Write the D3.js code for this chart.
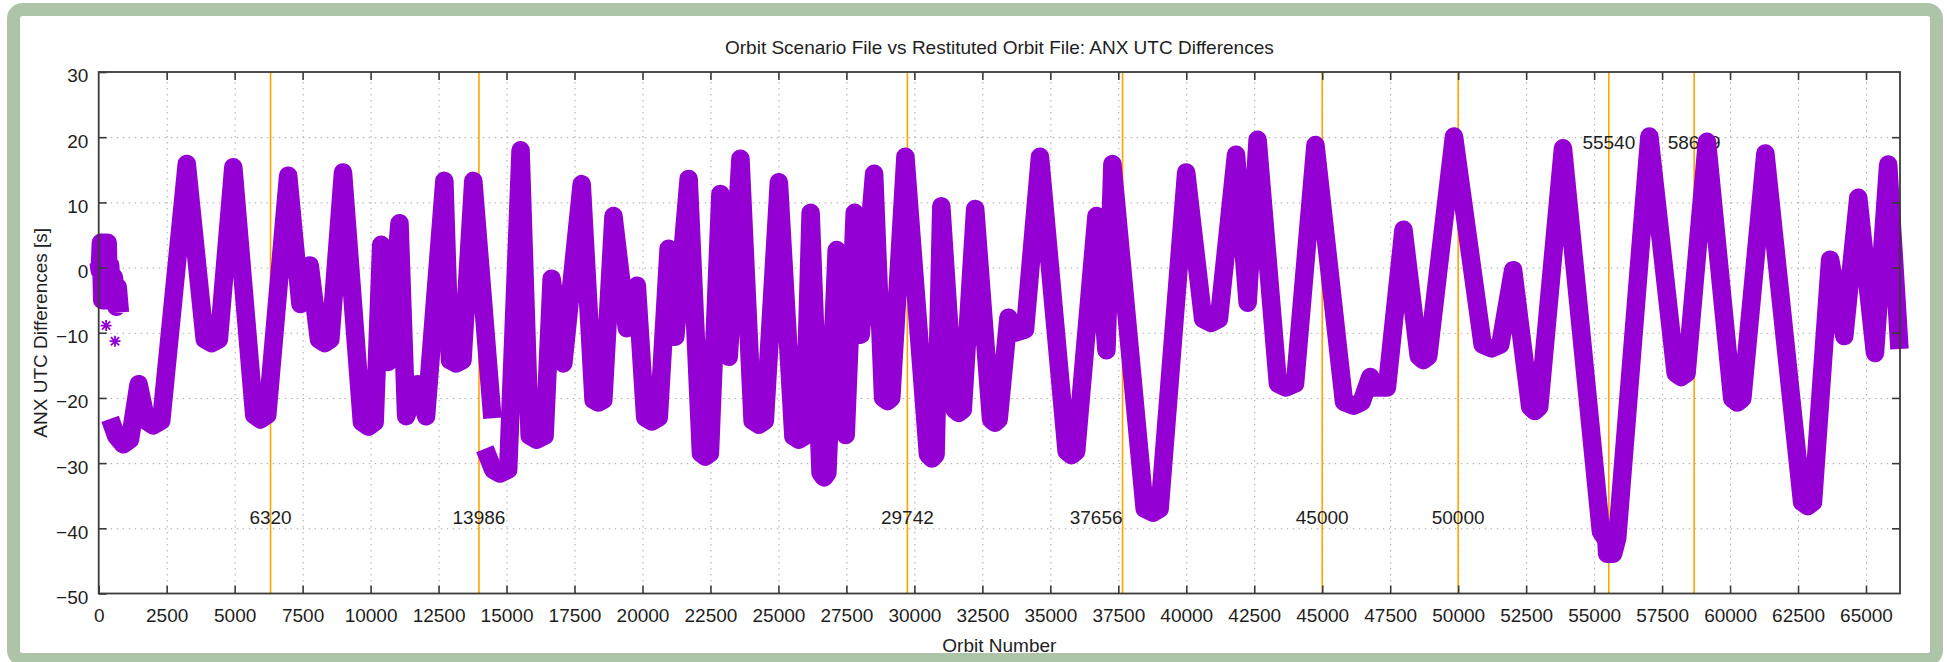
<!DOCTYPE html>
<html>
<head>
<meta charset="utf-8">
<script src="https://cdn.jsdelivr.net/npm/d3@7"></script>
<style>
  body { margin: 0; background: #ffffff; }
  svg { display: block; }
  text { font-family: "Liberation Sans", Arial, Helvetica, sans-serif; fill: #1e1e1e; }
</style>
</head>
<body>
<svg id="chart" width="1947" height="662"></svg>
<script>
// ---------------- DATA ----------------
// Orbit numbers of the traced band vertices (null value = gap in the trace)
const orbitNumbers = [
  0, 40, 80, 130, 200, 260, 330, 380, 420, 500, 560, 650, 700, 780, 790,
  420, 640, 900, 1150, 1467, 1750, 2000, 2300, 3239, 3900, 4156, 4420, 4951,
  5720, 5953, 6200, 6968, 7420, 7762, 8100, 8312, 8520, 8985, 9680, 9926, 10150,
  10390, 10635, 11063, 11307, 11735, 12040, 12713, 12920, 13141, 13380, 13777, 14480, 14490,
  14201, 14508, 14754, 15061, 15516, 15850, 16106, 16400, 16659, 17089, 17765,
  18200, 18380, 18560, 18933, 19424, 19793, 20100, 20346, 20600, 20961, 21206, 21698,
  22150, 22313, 22480, 22866, 23173, 23603, 24050, 24280, 24500, 25016, 25550, 25754, 25950,
  26184, 26550, 26676, 26800, 27143, 27474, 27806, 28027, 28519, 28850, 29011, 29150, 29670,
  30500, 30648, 30780, 30990, 31480, 31625, 31780, 32236, 32820, 32969, 33100, 33458, 33700,
  34070, 34619, 35600, 35780, 35950, 36697, 37064, 37283, 38470, 38774, 39020, 39996,
  40620, 40912, 41200, 41829, 42257, 42623, 43370, 43662, 44000, 44751, 45800, 46156, 46450,
  46767, 46950, 47380, 47989, 48550, 48722, 48900, 49846, 50900, 51227, 51550, 52021,
  52650, 52816, 52980, 53854, 55250, 55450, 55480, 55700, 55850, 57032, 58000, 58200, 58400,
  59150, 60080, 60270, 60450, 61299, 62650, 62860, 63050, 63680, 64200, 64715, 65330, 65815, 66230
];
// ANX UTC differences [s] at those orbits
const anxDifferences = [
  0.8, -0.5, 3.8, -5.0, 3.8, -5.0, 3.8, -5.0, 0.4, -4.8, -1.5, -6.0, -3.0, -6.9, null,
  -23.2, -25.8, -27.1, -26.4, -17.9, -23.5, -24.2, -23.5, 15.9, -11.0, -11.6, -11.0, 15.4,
  -22.6, -23.3, -22.6, 14.1, -5.6, 0.3, -11.0, -11.6, -11.0, 14.6, -23.7, -24.4, -23.7,
  3.5, -14.5, 6.8, -22.8, -17.9, -22.8, 13.3, -14.2, -14.7, -14.2, 13.3, -23.1, null,
  -27.8, -31.0, -31.6, -31.0, 18.0, -25.8, -26.4, -25.8, -1.7, -14.7, 12.8,
  -20.3, -20.7, -20.3, 7.9, -9.3, -2.8, -23.0, -23.6, -23.0, 2.9, -10.6, 13.6,
  -28.5, -29.0, -28.5, 11.3, -13.7, 16.7, -23.5, -24.1, -23.5, 13.1, -25.9, -26.4, -25.9,
  8.4, -31.5, -32.2, -31.5, 2.7, -25.7, 8.4, -10.3, 14.4, -20.0, -20.5, -20.0, 17.0,
  -28.7, -29.3, -28.7, 9.4, -21.8, -22.3, -21.8, 9.0, -23.3, -23.8, -23.3, -7.7, -10.0,
  -9.5, 17.0, -28.2, -28.8, -28.2, 7.9, -12.7, 15.9, -37.0, -37.6, -37.0, 14.6,
  -7.9, -8.5, -7.9, 17.3, -5.4, 19.6, -17.8, -18.4, -17.8, 18.8, -20.6, -21.2, -20.6,
  -16.8, -18.4, -18.4, 5.8, -13.6, -14.2, -13.6, 20.1, -11.8, -12.4, -11.8, -0.4,
  -21.4, -22.0, -21.4, 18.3, -40.5, -41.8, -43.9, -43.9, -41.5, 20.1, -16.2, -16.8, -16.2,
  19.3, -20.1, -20.7, -20.1, 17.5, -36.0, -36.6, -36.0, 1.2, -10.5, 10.7, -13.1, 15.8, -12.5
];
// Isolated points near the start
const outlierOrbits = [272, 600];
const outlierDifferences = [-8.9, -11.3];
// Vertical marker orbits and their labels
const markerOrbits = [6320, 13986, 29742, 37656, 45000, 50000, 55540, 58679];
const markerLabels = ["6320", "13986", "29742", "37656", "45000", "50000", "55540", "58679"];
// Axis ticks
const xTickValues = [0, 2500, 5000, 7500, 10000, 12500, 15000, 17500, 20000, 22500, 25000, 27500,
  30000, 32500, 35000, 37500, 40000, 42500, 45000, 47500, 50000, 52500, 55000, 57500, 60000, 62500, 65000];
const yTickValues = [-50, -40, -30, -20, -10, 0, 10, 20, 30];
const chartTitle = "Orbit Scenario File vs Restituted Orbit File: ANX UTC Differences";
const xAxisTitle = "Orbit Number";
const yAxisTitle = "ANX UTC Differences [s]";

// ---------------- LAYOUT ----------------
const svg = d3.select("#chart");
const plot = { left: 98.7, right: 1900, top: 72, bottom: 593.5 };
const fontSize = 19;
const purple = "#9400d3";
const orange = "#ffa500";

const x = d3.scaleLinear().domain([0, 66250]).range([plot.left, plot.right]);
const y = d3.scaleLinear().domain([-50, 30]).range([plot.bottom, plot.top]);

// outer rounded green frame
svg.append("rect")
  .attr("x", 13.5).attr("y", 9.5)
  .attr("width", 1923).attr("height", 650)
  .attr("rx", 9).attr("ry", 9)
  .attr("fill", "#ffffff")
  .attr("stroke", "#aec4a8").attr("stroke-width", 13);

// grid
const gridX = svg.append("g")
  .attr("transform", `translate(0,${plot.bottom})`)
  .call(d3.axisBottom(x).tickValues(xTickValues.filter(v => v > 0))
    .tickSize(-(plot.bottom - plot.top)).tickFormat(""));
const gridY = svg.append("g")
  .attr("transform", `translate(${plot.left},0)`)
  .call(d3.axisLeft(y).tickValues(yTickValues.filter(v => v > -50 && v < 30))
    .tickSize(-(plot.right - plot.left)).tickFormat(""));
[gridX, gridY].forEach(g => {
  g.select(".domain").remove();
  g.selectAll(".tick line")
    .attr("stroke", "#a8a8a8").attr("stroke-width", 1)
    .attr("stroke-dasharray", "1.5,4.5");
});

// vertical orange marker lines
svg.append("g").selectAll("line")
  .data(markerOrbits)
  .join("line")
  .attr("x1", d => x(d)).attr("x2", d => x(d))
  .attr("y1", plot.top).attr("y2", plot.bottom)
  .attr("stroke", orange).attr("stroke-width", 1.6);

// marker labels (drawn beneath the data, as in the reference)
const labelLayout = {
  6320: { v: -38.3, anchor: "middle" }, 13986: { v: -38.3, anchor: "middle" },
  29742: { v: -38.3, anchor: "middle" }, 37656: { v: -38.3, anchor: "end" },
  45000: { v: -38.3, anchor: "middle" }, 50000: { v: -38.3, anchor: "middle" },
  55540: { v: 19.3, anchor: "middle" }, 58679: { v: 19.3, anchor: "middle" }
};
svg.append("g").selectAll("text")
  .data(markerOrbits.map((o, i) => ({ o, label: markerLabels[i] })))
  .join("text")
  .attr("x", d => x(d.o))
  .attr("y", d => y(labelLayout[d.o].v))
  .attr("dy", "0.36em")
  .attr("text-anchor", d => labelLayout[d.o].anchor)
  .style("font-size", fontSize + "px")
  .text(d => d.label);

// data band
const points = orbitNumbers.map((o, i) => ({ o, v: anxDifferences[i] }));
const line = d3.line()
  .defined(d => d.v !== null)
  .x(d => x(d.o)).y(d => y(d.v));
svg.append("path")
  .datum(points)
  .attr("d", line)
  .attr("fill", "none")
  .attr("stroke", purple)
  .attr("stroke-width", 18.5)
  .attr("stroke-linejoin", "round")
  .attr("stroke-linecap", "butt");

// isolated asterisk points
const star = (cx, cy, r) => {
  const p = d3.path();
  p.moveTo(cx - r, cy); p.lineTo(cx + r, cy);
  p.moveTo(cx, cy - r); p.lineTo(cx, cy + r);
  const k = r * 0.75;
  p.moveTo(cx - k, cy - k); p.lineTo(cx + k, cy + k);
  p.moveTo(cx - k, cy + k); p.lineTo(cx + k, cy - k);
  return p.toString();
};
svg.append("g").selectAll("path")
  .data(outlierOrbits.map((o, i) => ({ o, v: outlierDifferences[i] })))
  .join("path")
  .attr("d", d => star(x(d.o), y(d.v), 5.5))
  .attr("stroke", purple).attr("stroke-width", 1.8).attr("fill", "none");

// axes (ticks inward on all sides)
const axisColor = "#3a3a3a";
const bottomAxis = svg.append("g")
  .attr("transform", `translate(0,${plot.bottom})`)
  .call(d3.axisBottom(x).tickValues(xTickValues).tickSize(-8).tickSizeOuter(0).tickPadding(15.5)
    .tickFormat(d3.format("d")));
const topAxis = svg.append("g")
  .attr("transform", `translate(0,${plot.top})`)
  .call(d3.axisTop(x).tickValues(xTickValues.filter(v => v > 0)).tickSize(-8).tickSizeOuter(0).tickFormat(""));
const leftAxis = svg.append("g")
  .attr("transform", `translate(${plot.left},0)`)
  .call(d3.axisLeft(y).tickValues(yTickValues).tickSize(-8).tickSizeOuter(0).tickPadding(10.4)
    .tickFormat(d3.format("d")));
const rightAxis = svg.append("g")
  .attr("transform", `translate(${plot.right},0)`)
  .call(d3.axisRight(y).tickValues(yTickValues.filter(v => v > -50 && v < 30)).tickSize(-8).tickSizeOuter(0).tickFormat(""));
[bottomAxis, topAxis, leftAxis, rightAxis].forEach(g => {
  g.select(".domain").remove();
  g.selectAll(".tick line").attr("stroke", axisColor).attr("stroke-width", 1.6);
  g.selectAll(".tick text")
    .style("font-size", fontSize + "px")
    .style("font-family", "'Liberation Sans', Arial, Helvetica, sans-serif")
    .attr("fill", "#1e1e1e");
});
leftAxis.selectAll(".tick text").attr("dy", "0.52em");

// plot border
svg.append("rect")
  .attr("x", plot.left).attr("y", plot.top)
  .attr("width", plot.right - plot.left).attr("height", plot.bottom - plot.top)
  .attr("fill", "none").attr("stroke", axisColor).attr("stroke-width", 1.8);

// titles
svg.append("text")
  .attr("x", (plot.left + plot.right) / 2).attr("y", 47)
  .attr("dy", "0.36em").attr("text-anchor", "middle")
  .style("font-size", fontSize + "px")
  .text(chartTitle);
svg.append("text")
  .attr("x", (plot.left + plot.right) / 2).attr("y", 645)
  .attr("dy", "0.36em").attr("text-anchor", "middle")
  .style("font-size", fontSize + "px")
  .text(xAxisTitle);
svg.append("text")
  .attr("transform", `translate(40,${(plot.top + plot.bottom) / 2}) rotate(-90)`)
  .attr("dy", "0.36em").attr("text-anchor", "middle")
  .style("font-size", fontSize + "px")
  .text(yAxisTitle);
</script>
</body>
</html>
